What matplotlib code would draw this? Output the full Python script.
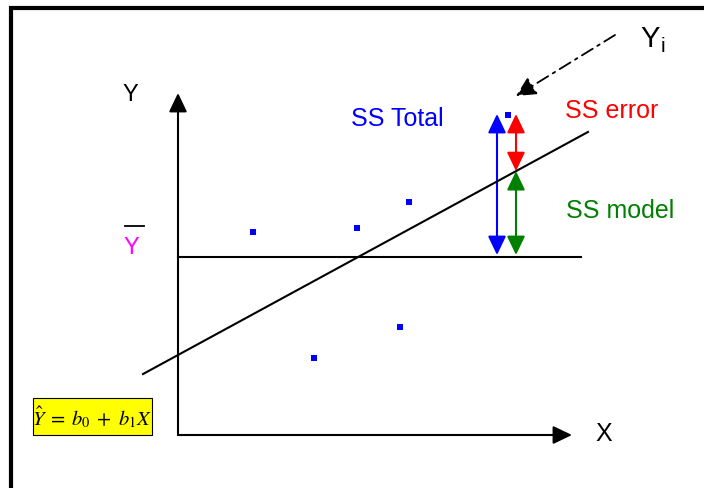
import numpy as np
import matplotlib
matplotlib.use('Agg')
import matplotlib.pyplot as plt
from matplotlib.patches import FancyArrowPatch, Rectangle

plt.rcParams['font.family'] = ['Liberation Sans', 'DejaVu Sans']
plt.rcParams['mathtext.fontset'] = 'stix'

# observed points (x, y), origin at the axes corner
point_x = [75, 179, 231, 222, 136, 330]
point_y = [203, 207, 233, 108, 77, 320]

# fitted line and mean of Y
b0 = 80
b1 = 0.544
y_bar = 178
line_x = [-35, 410]

# where the SS arrows sit
x_total = 319
x_parts = 338
yi = point_y[5]
yhat_i = b0 + b1 * x_parts

fig = plt.figure(figsize=(7.04, 4.88), dpi=100)
ax = fig.add_axes([0, 0, 1, 1])
ax.set_xlim(-178, 526)
ax.set_ylim(-53, 435)
ax.axis('off')


def arrow(p0, p1, color, style='-|>', ls='-', lw=1.5, hl=1.15, hw=0.55):
    a = FancyArrowPatch(p0, p1, arrowstyle='%s,head_length=%s,head_width=%s' % (style, hl, hw),
                        mutation_scale=10, color=color, lw=lw, linestyle=ls,
                        shrinkA=0, shrinkB=0)
    ax.add_patch(a)


# outer frame (runs off the right and bottom edges)
ax.plot([-167.5, -167.5, 600], [-100, 427, 427], color='black', lw=3, solid_joinstyle='miter')

# axes with arrow heads
arrow((0, 0), (0, 342), 'black')
arrow((0, 0), (394, 0), 'black')
ax.text(-48, 340, 'Y', fontsize=17, ha='center', va='center')
ax.text(426, 1, 'X', fontsize=18, ha='center', va='center')

# mean line and regression line
ax.plot([0, 403], [y_bar, y_bar], color='black', lw=1.5)
lx = np.array(line_x)
ax.plot(lx, b0 + b1 * lx, color='black', lw=1.5)

ax.plot([-53, -34], [209, 209], color='black', lw=1.3)
ax.text(-47, 187, 'Y', fontsize=17, color='magenta', ha='center', va='center')

# points
ax.scatter(point_x, point_y, marker='s', s=20, color='blue', linewidths=0, zorder=3)

# SS arrows
arrow((x_total, y_bar + 2), (x_total, yi + 1), 'blue', style='<|-|>')
arrow((x_parts, yhat_i), (x_parts, yi + 1), 'red', style='<|-|>')
arrow((x_parts, y_bar + 2), (x_parts, yhat_i), 'green', style='<|-|>')

ax.text(219, 316, 'SS Total', fontsize=18, color='blue', ha='center', va='center')
ax.text(434, 324, 'SS error', fontsize=18, color='red', ha='center', va='center')
ax.text(442, 224, 'SS model', fontsize=18, color='green', ha='center', va='center')

# Yi pointer
arrow((437, 400), (338, 339), 'black', ls=(0, (7, 3, 1.5, 3)), lw=1.3, hl=1.2, hw=0.6)
ax.text(472, 396, 'Y', fontsize=21, ha='center', va='center')
ax.text(485, 389, 'i', fontsize=15, ha='center', va='center')

# equation box
ax.add_patch(Rectangle((-145, 0), 119, 37, facecolor='yellow', edgecolor='black', lw=0.8))
ax.text(-86, 18, r'$\hat{Y}\;=\;b_0\;+\;b_1X$', fontsize=14.8, ha='center', va='center')

fig.savefig('out.png', dpi=100)
